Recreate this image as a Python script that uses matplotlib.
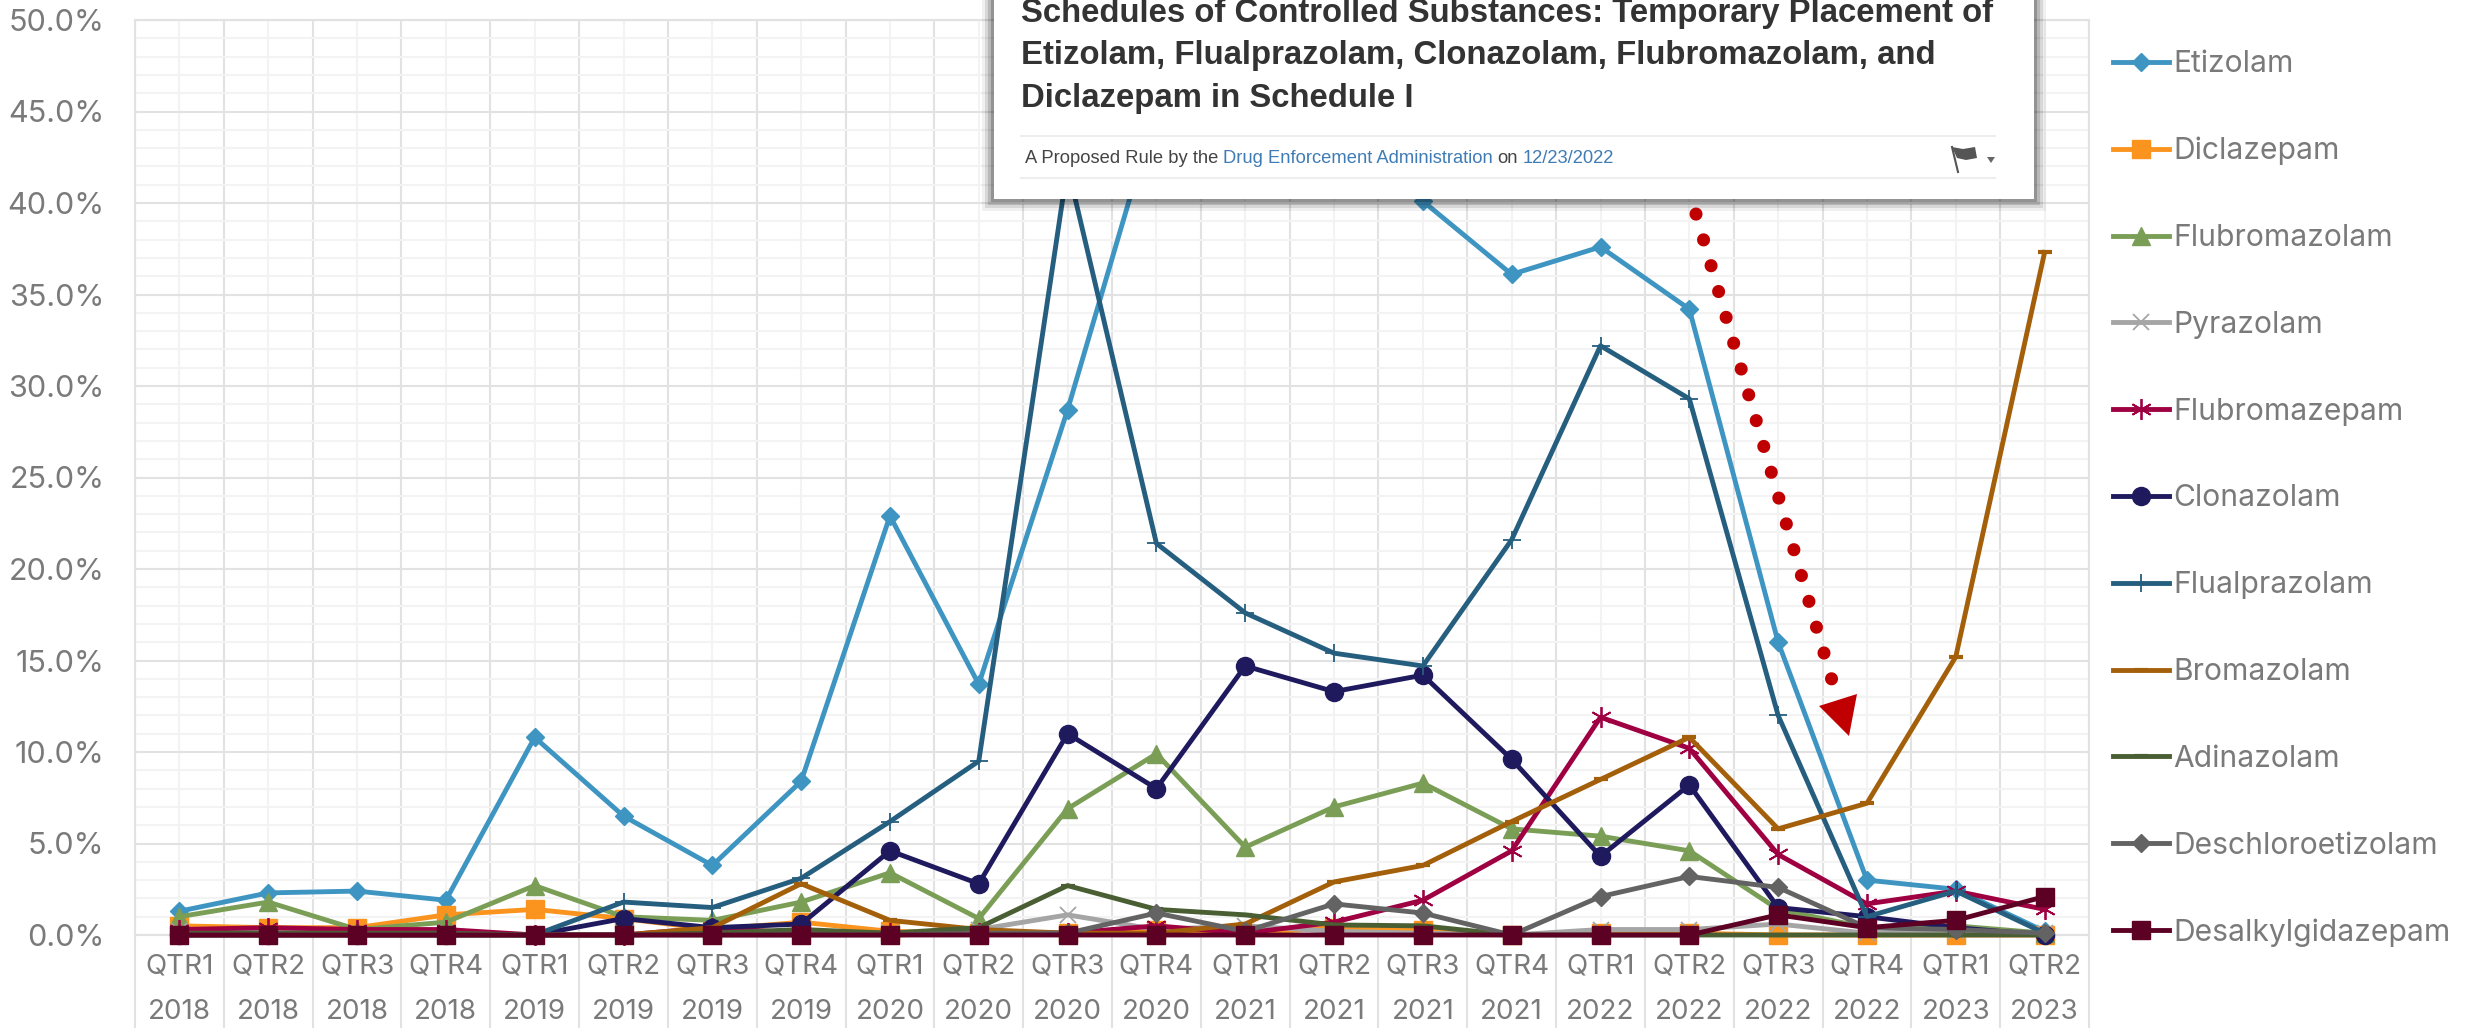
import matplotlib
matplotlib.use("Agg")
import matplotlib.pyplot as plt
from matplotlib.patches import Rectangle, Polygon
import numpy as np

quarters = ["QTR1", "QTR2", "QTR3", "QTR4", "QTR1", "QTR2", "QTR3", "QTR4", "QTR1", "QTR2", "QTR3",
            "QTR4", "QTR1", "QTR2", "QTR3", "QTR4", "QTR1", "QTR2", "QTR3", "QTR4", "QTR1", "QTR2"]
years = ["2018", "2018", "2018", "2018", "2019", "2019", "2019", "2019", "2020", "2020", "2020",
         "2020", "2021", "2021", "2021", "2021", "2022", "2022", "2022", "2022", "2023", "2023"]

# percent of positive samples (etizolam 2020-2021 is hidden behind the clipping)
etizolam = [1.3, 2.3, 2.4, 1.9, 10.8, 6.5, 3.8, 8.4, 22.9, 13.7, 28.7, 45.2, 47.0, 45.0, 40.1, 36.1, 37.6, 34.2, 16.0, 3.0, 2.5, 0.2]
diclazepam = [0.5, 0.4, 0.4, 1.1, 1.4, 0.9, 0.3, 0.7, 0.2, 0.1, 0.1, 0.3, 0.1, 0.4, 0.3, 0.0, 0.1, 0.1, 0.0, 0.0, 0.0, 0.0]
flubromazolam = [1.0, 1.8, 0.3, 0.7, 2.7, 1.0, 0.8, 1.8, 3.4, 0.9, 6.9, 9.9, 4.8, 7.0, 8.3, 5.8, 5.4, 4.6, 1.4, 0.4, 0.5, 0.1]
pyrazolam = [0.2, 0.2, 0.1, 0.1, 0.0, 0.0, 0.1, 0.1, 0.1, 0.3, 1.1, 0.3, 0.5, 0.2, 0.1, 0.0, 0.3, 0.3, 0.6, 0.1, 0.2, 0.1]
flubromazepam = [0.3, 0.4, 0.3, 0.3, 0.0, 0.0, 0.4, 0.1, 0.1, 0.1, 0.1, 0.5, 0.1, 0.7, 1.9, 4.6, 11.9, 10.2, 4.4, 1.7, 2.4, 1.4]
clonazolam = [0.0, 0.0, 0.0, 0.0, 0.0, 0.9, 0.4, 0.6, 4.6, 2.8, 11.0, 8.0, 14.7, 13.3, 14.2, 9.6, 4.3, 8.2, 1.5, 1.0, 0.4, 0.0]
flualprazolam = [0.0, 0.0, 0.0, 0.0, 0.0, 1.8, 1.5, 3.1, 6.2, 9.5, 42.0, 21.4, 17.6, 15.4, 14.7, 21.6, 32.2, 29.3, 12.0, 1.0, 2.4, 0.1]
bromazolam = [0.0, 0.0, 0.0, 0.0, 0.0, 0.0, 0.4, 2.8, 0.8, 0.3, 0.1, 0.1, 0.6, 2.9, 3.8, 6.2, 8.5, 10.8, 5.8, 7.2, 15.2, 37.3]
adinazolam = [0.1, 0.1, 0.1, 0.1, 0.0, 0.0, 0.1, 0.3, 0.1, 0.4, 2.7, 1.4, 1.1, 0.55, 0.5, 0.0, 0.0, 0.0, 0.0, 0.0, 0.0, 0.0]
deschloroetizolam = [0.0, 0.0, 0.0, 0.0, 0.0, 0.0, 0.0, 0.0, 0.0, 0.1, 0.1, 1.2, 0.2, 1.7, 1.2, 0.0, 2.1, 3.2, 2.6, 0.4, 0.3, 0.1]
desalkylgidazepam = [0.0, 0.0, 0.0, 0.0, 0.0, 0.0, 0.0, 0.0, 0.0, 0.0, 0.0, 0.0, 0.0, 0.0, 0.0, 0.0, 0.0, 0.0, 1.1, 0.4, 0.8, 2.1]

plt.rcParams["font.family"] = ["Inter", "DejaVu Sans"]
W, H = 2468, 1028
GREY = "#7a7a7a"

fig = plt.figure(figsize=(W / 100, H / 100), dpi=100)
ax = fig.add_axes([135 / W, 1 - 935 / H, (2089 - 135) / W, (935 - 20) / H])

x = np.arange(len(quarters))
styles = [
    ("Etizolam", etizolam, "#3F95C2", "D", 9, 1),
    ("Diclazepam", diclazepam, "#FA941F", "s", 12.5, 1),
    ("Flubromazolam", flubromazolam, "#7B9E57", "^", 13, 1),
    ("Pyrazolam", pyrazolam, "#A5A5A5", "x", 12, 1.3),
    ("Flubromazepam", flubromazepam, "#9E0042", (6, 2, 0), 15, 1.3),
    ("Clonazolam", clonazolam, "#1F1A5E", "o", 13, 1),
    ("Flualprazolam", flualprazolam, "#255E7E", "+", 12.5, 1.3),
    ("Bromazolam", bromazolam, "#A35F0A", "_", 10, 3),
    ("Adinazolam", adinazolam, "#4A5E33", "_", 10, 3),
    ("Deschloroetizolam", deschloroetizolam, "#636363", "D", 9, 1),
    ("Desalkylgidazepam", desalkylgidazepam, "#5C0024", "s", 12.5, 1),
]
for name, vals, col, mk, ms, mew in styles:
    ax.plot(x, vals, color=col, lw=3.5, marker=mk, ms=ms, mew=mew, mec=col, mfc=col,
            label=name, clip_on=False, solid_joinstyle="round", zorder=3)

ax.set_xlim(-0.5, len(quarters) - 0.5)
ax.set_ylim(0, 50)

ax.set_yticks(np.arange(0, 51, 5))
ax.set_yticklabels(["%.1f%%" % v for v in np.arange(0, 51, 5)])
ax.set_yticks(np.arange(0, 51, 1), minor=True)
ax.tick_params(axis="y", which="both", length=0, pad=22, labelsize=22, labelcolor=GREY)

ax.set_xticks(np.arange(-0.5, len(quarters)))
ax.set_xticklabels([])
ax.set_xticks(x, [q + "\n" + y for q, y in zip(quarters, years)], minor=True)
ax.tick_params(axis="x", which="major", length=67, width=1.5, color="#e2e2e2")
ax.tick_params(axis="x", which="minor", length=0, pad=13, labelsize=20, labelcolor=GREY)
for lab in ax.get_xticklabels(minor=True):
    lab.set_linespacing(2.0)

ax.grid(which="major", color="#e2e2e2", lw=1.5)
ax.grid(which="minor", color="#f3f3f3", lw=1.5)
ax.set_axisbelow(True)
for s in ax.spines.values():
    s.set_color("#e2e2e2")
    s.set_linewidth(1.5)

ax.legend(loc="upper left", bbox_to_anchor=(2113 / W, 1 - 50 / H), bbox_transform=fig.transFigure,
          frameon=False, fontsize=21.6, labelcolor=GREY, handlelength=1.87, handletextpad=0.15,
          labelspacing=1.96, borderpad=0, borderaxespad=0)

# pasted Federal Register clipping and red arrow, placed in picture pixels
over = fig.add_axes([0, 0, 1, 1], zorder=5)
over.set_xlim(0, W)
over.set_ylim(H, 0)
over.axis("off")

for grow, alpha in [(12, 0.06), (9, 0.1), (6, 0.14), (3, 0.2)]:
    over.add_patch(Rectangle((994 - grow, -40), 1040 + 2 * grow, 239 + grow, fc="black", ec="none", alpha=alpha))
over.add_patch(Rectangle((994, -40), 1040, 239, fc="white", ec="none"))

title_lines = ["Schedules of Controlled Substances: Temporary Placement of",
               "Etizolam, Flualprazolam, Clonazolam, Flubromazolam, and",
               "Diclazepam in Schedule I"]
for line, yb in zip(title_lines, [22, 64, 107]):
    over.text(1021, yb, line, family="Liberation Sans", weight="bold", fontsize=23.65, color="#333333", va="baseline")
over.plot([1021, 1995], [136, 136], color="#eeeeee", lw=1.5)
over.plot([1021, 1995], [178, 178], color="#eeeeee", lw=1.5)
over.text(1025, 163, "A Proposed Rule by the", family="Liberation Sans", fontsize=13.2, color="#444444", va="baseline")
over.text(1223, 163, "Drug Enforcement Administration", family="Liberation Sans", fontsize=13.2, color="#3F7CB5", va="baseline")
over.text(1497, 163, "on", family="Liberation Sans", fontsize=13.2, color="#444444", va="baseline")
over.text(1523, 163, "12/23/2022", family="Liberation Sans", fontsize=13.2, color="#3F7CB5", va="baseline")
over.add_patch(Polygon([[1952, 147], [1963, 149], [1975, 147], [1977, 158], [1966, 160], [1957, 158]], fc="#555555", ec="none"))
over.plot([1952, 1958], [147, 172], color="#555555", lw=1.5)
over.add_patch(Polygon([[1987, 157], [1995, 157], [1991, 163]], fc="#666666", ec="none"))

over.plot([1696, 1838], [214, 701], color="#C00000", lw=9.4, linestyle=(0, (0.01, 2.05)), dash_capstyle="round")
over.add_patch(Polygon([[1819, 706], [1857, 694], [1849, 736]], fc="#C00000", ec="none"))

fig.savefig("out.png", dpi=100)
